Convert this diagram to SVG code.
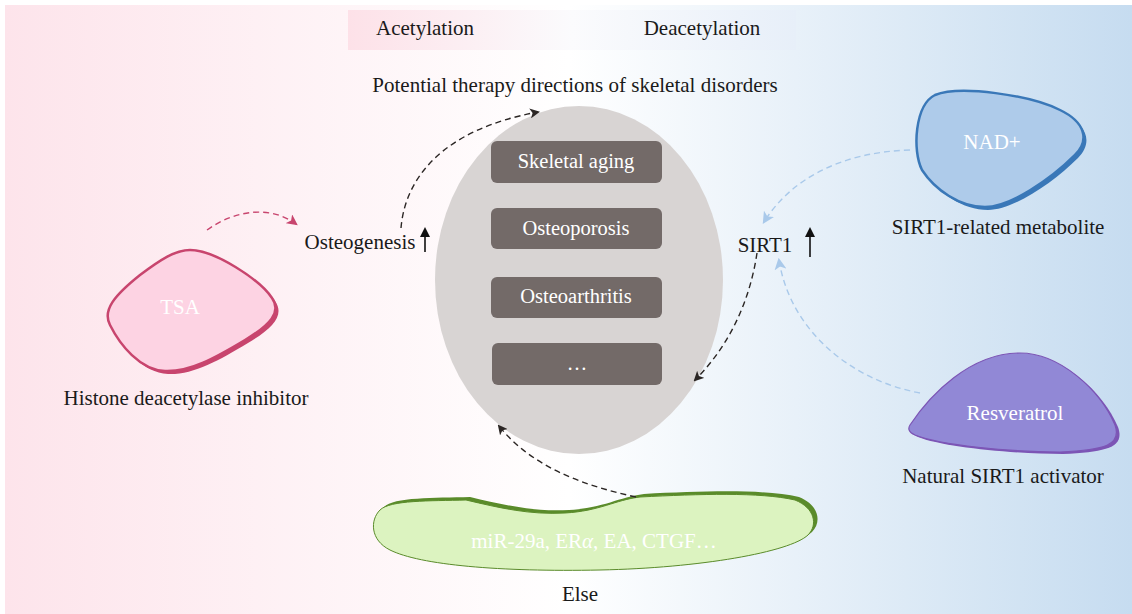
<svg xmlns="http://www.w3.org/2000/svg" width="1132" height="614" viewBox="0 0 1132 614">
<defs>
<linearGradient id="bg" x1="0" y1="0" x2="1" y2="0">
<stop offset="0" stop-color="#fde4eb"/>
<stop offset="0.5" stop-color="#ffffff"/>
<stop offset="1" stop-color="#c6dcf0"/>
</linearGradient>
<linearGradient id="hd" x1="0" y1="0" x2="1" y2="0">
<stop offset="0" stop-color="#fde1e8"/>
<stop offset="0.5" stop-color="#fbfbfd"/>
<stop offset="1" stop-color="#e7eff9"/>
</linearGradient>
<marker id="mb" viewBox="0 0 10 10" refX="8" refY="5" markerWidth="10" markerHeight="10" markerUnits="userSpaceOnUse" orient="auto"><path d="M0,0 L10,5 L0,10 L2.5,5 Z" fill="#2b2624"/></marker>
<marker id="mp" viewBox="0 0 10 10" refX="8" refY="5" markerWidth="11" markerHeight="11" markerUnits="userSpaceOnUse" orient="auto"><path d="M0,0 L10,5 L0,10 L2.5,5 Z" fill="#c8456e"/></marker>
<marker id="ml" viewBox="0 0 10 10" refX="8" refY="5" markerWidth="12" markerHeight="12" markerUnits="userSpaceOnUse" orient="auto"><path d="M0,0 L10,5 L0,10 L2.5,5 Z" fill="#a9c9ea"/></marker>
<marker id="mu" viewBox="0 0 10 10" refX="8" refY="5" markerWidth="10" markerHeight="12" markerUnits="userSpaceOnUse" orient="auto"><path d="M0,0 L10,5 L0,10 Z" fill="#111"/></marker>
</defs>
<style>
text{font-family:"Liberation Serif","Times New Roman",serif;font-size:21px;fill:#1a1a1a;text-anchor:middle}
.w{fill:#ffffff}
.b{font-size:20.5px}
.box{fill:#736a68}
.dash{fill:none;stroke-width:1.4;stroke-dasharray:6,4}
</style>
<rect x="5" y="5" width="1127" height="609" fill="url(#bg)"/>
<g id="header">
<rect x="348" y="10" width="448" height="40" fill="url(#hd)"/>
<text x="425" y="35">Acetylation</text>
<text x="702" y="35">Deacetylation</text>
</g>
<text x="575" y="92">Potential therapy directions of skeletal disorders</text>
<g id="center">
<ellipse cx="579" cy="280" rx="144" ry="174" fill="#d8d4d3"/>
<rect class="box" x="491" y="141" width="171" height="42" rx="6"/>
<text class="w b" x="576" y="168">Skeletal aging</text>
<rect class="box" x="491" y="208" width="171" height="41" rx="6"/>
<text class="w b" x="576" y="235">Osteoporosis</text>
<rect class="box" x="491" y="277" width="171" height="41" rx="6"/>
<text class="w b" x="576" y="303">Osteoarthritis</text>
<rect class="box" x="492" y="343" width="170" height="42" rx="6"/>
<text class="w b" x="577" y="370">…</text>
</g>
<g id="tsa">
<path d="M190,250 C215,250 260,280 272,298 C282,312 270,325 245,340 C215,358 190,372 165,371 C140,370 120,345 110,325 C102,310 115,295 140,275 C160,260 175,250 190,250 Z" fill="#c8456e" transform="translate(3,3)"/>
<path d="M190,250 C215,250 260,280 272,298 C282,312 270,325 245,340 C215,358 190,372 165,371 C140,370 120,345 110,325 C102,310 115,295 140,275 C160,260 175,250 190,250 Z" fill="#fdd3e3" stroke="#c8456e" stroke-width="2.5"/>
<text class="w" x="180" y="314">TSA</text>
<text x="186" y="405">Histone deacetylase inhibitor</text>
</g>
<g id="nad">
<path d="M935,95 C960,85 1030,95 1060,110 C1085,122 1090,140 1075,155 C1050,180 1010,207 985,207 C960,207 935,190 922,170 C912,150 915,105 935,95 Z" fill="#3a78b8" transform="translate(3,3)"/>
<path d="M935,95 C960,85 1030,95 1060,110 C1085,122 1090,140 1075,155 C1050,180 1010,207 985,207 C960,207 935,190 922,170 C912,150 915,105 935,95 Z" fill="#aecbea" stroke="#3a78b8" stroke-width="2.5"/>
<text class="w" x="992" y="149">NAD+</text>
<text x="998" y="234">SIRT1-related metabolite</text>
</g>
<g id="resveratrol">
<path d="M910,425 C930,395 970,353 1020,353 C1060,353 1100,390 1115,425 C1122,445 1105,450 1060,452 C1010,452 940,445 915,435 C908,432 908,428 910,425 Z" fill="#7c55b5" transform="translate(3,2)"/>
<path d="M910,425 C930,395 970,353 1020,353 C1060,353 1100,390 1115,425 C1122,445 1105,450 1060,452 C1010,452 940,445 915,435 C908,432 908,428 910,425 Z" fill="#9188d6" stroke="#7c55b5" stroke-width="1.2"/>
<text class="w" x="1015" y="420">Resveratrol</text>
<text x="1003" y="483">Natural SIRT1 activator</text>
</g>
<g id="else">
<path d="M380,510 C390,500 430,501 466,500 C500,508 530,515 565,513 C600,511 615,500 640,497 C700,494 760,492 795,500 C815,508 818,525 808,535 C790,552 700,568 600,570 C500,572 420,565 390,550 C370,540 370,520 380,510 Z" fill="#5a8b2a" transform="translate(4,-3)"/>
<path d="M380,510 C390,500 430,501 466,500 C500,508 530,515 565,513 C600,511 615,500 640,497 C700,494 760,492 795,500 C815,508 818,525 808,535 C790,552 700,568 600,570 C500,572 420,565 390,550 C370,540 370,520 380,510 Z" fill="#dcf3c0" stroke="#5a8b2a" stroke-width="1"/>
<text class="w" x="594" y="548">miR-29a, ER<tspan font-style="italic">α</tspan>, EA, CTGF…</text>
<text x="580" y="601">Else</text>
</g>
<g id="osteogenesis">
<text x="360" y="249">Osteogenesis</text>
</g>
<g id="sirt1">
<text x="765" y="252">SIRT1</text>
</g>
<g id="connectors">
<line x1="425" y1="252" x2="425" y2="229" stroke="#111" stroke-width="1.6" marker-end="url(#mu)"/>
<line x1="810" y1="257" x2="810" y2="229" stroke="#111" stroke-width="1.6" marker-end="url(#mu)"/>
<path class="dash" d="M207,230 C235,210 270,205 296,224" stroke="#c8456e" marker-end="url(#mp)"/>
<path class="dash" d="M401,228 C405,180 440,130 538,112" stroke="#2b2624" marker-end="url(#mb)"/>
<path class="dash" d="M757,253 C750,300 730,345 695,380" stroke="#2b2624" marker-end="url(#mb)"/>
<path class="dash" d="M636,497 C580,485 530,465 499,426" stroke="#2b2624" marker-end="url(#mb)"/>
<path class="dash" d="M910,150 C840,152 790,180 764,222" stroke="#a9c9ea" marker-end="url(#ml)"/>
<path class="dash" d="M920,393 C850,380 790,330 779,260" stroke="#a9c9ea" marker-end="url(#ml)"/>
</g>
</svg>
